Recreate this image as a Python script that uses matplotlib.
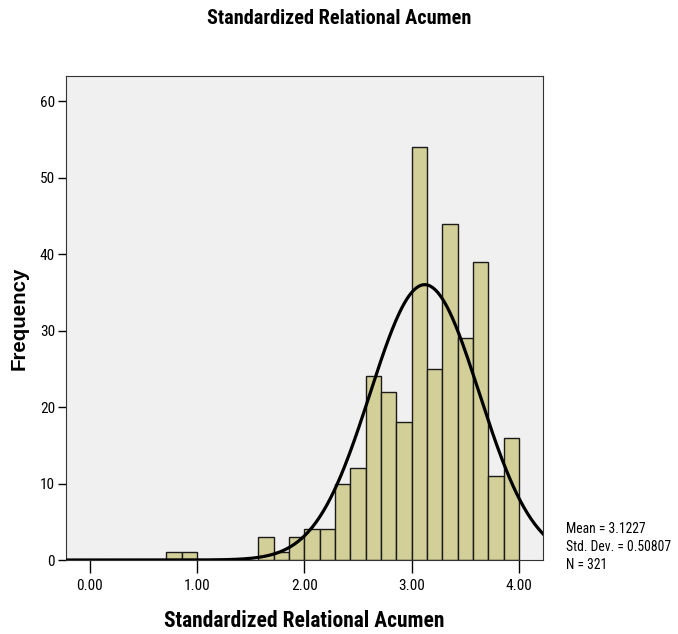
import numpy as np
import matplotlib.pyplot as plt
from matplotlib import font_manager

# bin edges are in sevenths; counts
bin_index = [5, 6, 11, 12, 13, 14, 15, 16, 17, 18, 19, 20, 21, 22, 23, 24, 25, 26, 27]
counts = [1, 1, 3, 1, 3, 4, 4, 10, 12, 24, 22, 18, 54, 25, 44, 29, 39, 11, 16]
mean, sd, n = 3.1227, 0.50807, 321
bin_width = 1 / 7
xticks = [0, 1, 2, 3, 4]
yticks = [0, 10, 20, 30, 40, 50, 60]

# look for a narrow font, SPSS uses Arial Narrow
fonts = font_manager.fontManager.ttflist
names = {f.name for f in fonts}
stretch = 'normal'
if 'Liberation Sans Narrow' in names:
    narrow = 'Liberation Sans Narrow'
elif 'Roboto Condensed' in names:
    narrow = 'Roboto Condensed'
elif any(f.name == 'DejaVu Sans' and f.stretch == 'condensed' for f in fonts):
    narrow, stretch = 'DejaVu Sans', 'condensed'
else:
    narrow = 'Liberation Sans'
plt.rcParams['font.family'] = [narrow, 'DejaVu Sans']
plt.rcParams['font.stretch'] = stretch

fig = plt.figure(figsize=(6.78, 6.34), dpi=100)
ax = fig.add_axes([66 / 678, 1 - 560 / 634, (543 - 66) / 678, (560 - 76) / 634])
ax.set_facecolor('#f0f0f0')

lefts = np.array(bin_index) * bin_width
ax.bar(lefts, counts, width=bin_width, align='edge', color='#d3cf98',
       edgecolor='#1a1a1a', linewidth=1.0, zorder=2)

x = np.linspace(-0.22, 4.225, 400)
y = n * bin_width * np.exp(-0.5 * ((x - mean) / sd) ** 2) / (sd * np.sqrt(2 * np.pi))
ax.plot(x, y, color='black', linewidth=2.3, zorder=3)

ax.set_xlim(-0.22, 4.225)
ax.set_ylim(0, 63.3)
ax.set_xticks(xticks)
ax.set_xticklabels(['%.2f' % t for t in xticks], fontsize=11)
ax.set_yticks(yticks)
ax.set_yticklabels([str(t) for t in yticks], fontsize=11)
ax.tick_params(axis='x', length=9, width=1, pad=5)
ax.tick_params(axis='y', length=6, width=1, pad=2)
for s in ax.spines.values():
    s.set_linewidth(0.8)
    s.set_color('#333333')

ax.set_xlabel('Standardized Relational Acumen', fontsize=15.5, fontweight='bold', va='center')
ax.xaxis.set_label_coords(0.5, (560 - 621) / 484)
ax.set_ylabel('Frequency', fontsize=14.8, fontweight='bold', va='center',
              family='Liberation Sans', stretch='normal')
ax.yaxis.set_label_coords((19 - 66) / 477, 0.5)
fig.text(0.5, 1 - 18 / 634, 'Standardized Relational Acumen', ha='center', va='center',
         fontsize=14.6, fontweight='bold')
fig.text(566 / 678, 1 - 547 / 634, 'Mean = 3.1227\nStd. Dev. = 0.50807\nN = 321',
         ha='left', va='center', fontsize=9.8, linespacing=1.35)

fig.savefig('out.png', dpi=100)
